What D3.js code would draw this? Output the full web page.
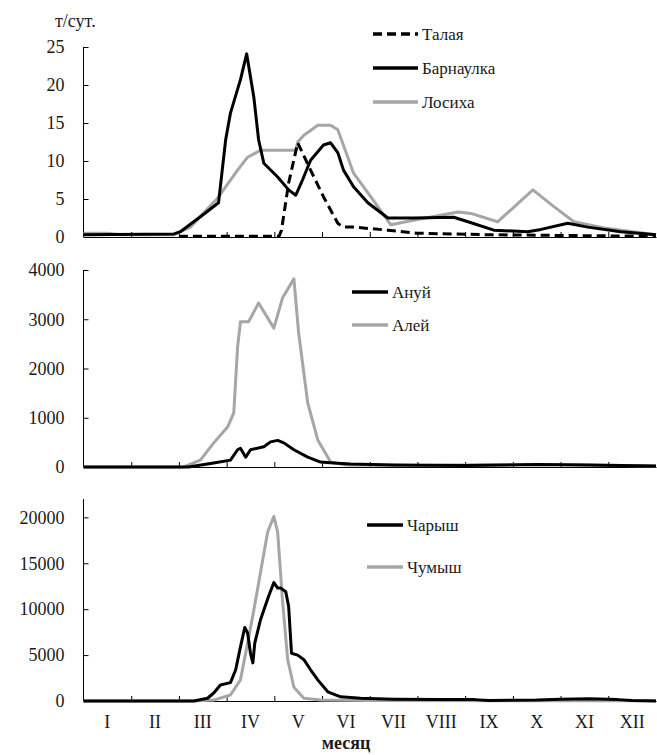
<!DOCTYPE html>
<html>
<head>
<meta charset="utf-8">
<script src="https://cdn.jsdelivr.net/npm/d3@7"></script>
<style>
  body { margin: 0; background: #fff; }
  svg text { fill: #1a1a1a; }
</style>
</head>
<body>
<svg id="chart" width="657" height="755"></svg>
<script>
// month labels (x in month units: 0 = 1 Jan, 12 = 31 Dec)
const months = ['I', 'II', 'III', 'IV', 'V', 'VI', 'VII', 'VIII', 'IX', 'X', 'XI', 'XII'];

// top panel, т/сут.
const talaya = [[2.0,0.1],[4.1,0.1],[4.15,0.9],[4.3,7.1],[4.49,12.4],[4.76,8.8],[5.03,5.3],[5.33,1.8],[5.45,1.3],[5.66,1.3],[6.38,0.9],[7.0,0.5],[8.5,0.3],[10,0.2],[12,0.1]];
const barnaulka = [[0,0.3],[1.9,0.4],[2.03,0.7],[2.52,3.0],[2.83,4.5],[2.98,12.8],[3.08,16.3],[3.29,20.7],[3.42,24.1],[3.57,18.4],[3.67,12.8],[3.78,9.7],[4.07,7.9],[4.3,6.2],[4.45,5.5],[4.59,7.5],[4.76,10.1],[5.03,12.1],[5.18,12.4],[5.33,11.1],[5.45,8.8],[5.66,6.6],[5.96,4.5],[6.38,2.5],[6.92,2.5],[7.76,2.6],[8.06,2.0],[8.6,0.9],[9.31,0.7],[9.59,1.0],[10.15,1.8],[10.57,1.3],[11.26,0.7],[12,0.3]];
const losikha = [[0,0.5],[0.5,0.5],[0.8,0.3],[1.9,0.3],[2.03,0.7],[2.24,1.3],[2.52,3.2],[2.81,5.1],[3.23,8.8],[3.44,10.5],[3.71,11.4],[4.45,11.4],[4.49,12.5],[4.62,13.4],[4.91,14.7],[5.18,14.7],[5.33,14.1],[5.54,10.5],[5.66,8.4],[6.02,5.3],[6.44,1.6],[6.92,2.2],[7.85,3.3],[8.12,3.1],[8.68,2.0],[9.42,6.2],[9.86,4.0],[10.28,2.0],[10.91,1.2],[12,0.3]];

// middle panel
const anuy = [[0,0],[2.2,0],[2.73,80],[3.08,140],[3.23,350],[3.29,380],[3.4,200],[3.5,350],[3.78,410],[3.92,510],[4.07,540],[4.2,490],[4.41,350],[4.7,200],[4.97,100],[5.24,80],[5.6,60],[6.5,40],[8,30],[9.5,50],[10.5,40],[12,20]];
const aley = [[0,0],[2.1,0],[2.45,140],[2.73,490],[3.02,810],[3.15,1100],[3.23,2440],[3.29,2950],[3.46,2950],[3.67,3330],[3.99,2820],[4.17,3430],[4.41,3820],[4.51,2720],[4.7,1300],[4.91,550],[5.18,100],[5.5,40],[7,30],[9,50],[10,50],[12,20]];

// bottom panel
const charysh = [[0,0],[2.31,0],[2.6,300],[2.73,870],[2.87,1750],[3.08,2000],[3.19,3400],[3.29,5900],[3.38,8000],[3.44,7400],[3.5,5200],[3.55,4150],[3.59,6300],[3.71,8850],[3.88,11400],[3.99,12900],[4.07,12300],[4.13,12300],[4.24,11900],[4.3,10300],[4.36,5200],[4.49,5000],[4.62,4500],[4.76,3400],[4.91,2300],[5.12,1000],[5.39,450],[5.81,300],[6.5,200],[7.5,150],[8.2,150],[8.5,50],[9.5,100],[10,200],[10.6,250],[11.2,150],[11.5,50],[12,0]];
const chumysh = [[0,0],[2.3,0],[2.73,100],[3.08,650],[3.29,2300],[3.44,6300],[3.57,9900],[3.71,14000],[3.86,18400],[3.99,20100],[4.07,18400],[4.17,11000],[4.28,4500],[4.41,1500],[4.62,300],[4.97,100],[6,50],[12,30]];

const topTicks = [0, 5, 10, 15, 20, 25];
const midTicks = [0, 1000, 2000, 3000, 4000];
const botTicks = [0, 5000, 10000, 15000, 20000];

const BLACK = '#000';
const GREY = '#a6a6a6';
const FONT = "'Liberation Serif', Tinos, 'DejaVu Serif', 'Noto Serif', FreeSerif, 'Times New Roman', Times, serif";

const svg = d3.select('#chart');
const x = d3.scaleLinear().domain([0, 12]).range([83.5, 656]);

const panels = [
  {
    y: d3.scaleLinear().domain([0, 25]).range([237, 47]),
    ticks: topTicks,
    series: [
      { name: 'Талая', data: talaya, color: BLACK, dash: '9,5' },
      { name: 'Барнаулка', data: barnaulka, color: BLACK },
      { name: 'Лосиха', data: losikha, color: GREY },
    ],
    legend: { x1: 373, x2: 418, ys: [34, 68, 102] },
  },
  {
    y: d3.scaleLinear().domain([0, 4000]).range([467, 270]),
    ticks: midTicks,
    series: [
      { name: 'Ануй', data: anuy, color: BLACK },
      { name: 'Алей', data: aley, color: GREY },
    ],
    legend: { x1: 352, x2: 388, ys: [292, 325] },
  },
  {
    y: d3.scaleLinear().domain([0, 22000]).range([701, 499]),
    ticks: botTicks,
    series: [
      { name: 'Чарыш', data: charysh, color: BLACK },
      { name: 'Чумыш', data: chumysh, color: GREY },
    ],
    legend: { x1: 367, x2: 403, ys: [525, 567] },
  },
];

panels.forEach((p) => {
  const g = svg.append('g');
  const y0 = p.y(0);

  // y axis, ticks pointing inside
  g.append('g')
    .attr('transform', `translate(${x(0)},0)`)
    .call(d3.axisLeft(p.y).tickValues(p.ticks).tickFormat(d3.format('d')).tickSize(-5).tickSizeOuter(0).tickPadding(19))
    .attr('font-family', FONT)
    .attr('font-size', 18)
    .call((a) => a.select('.domain').attr('stroke', '#000').attr('d', `M0,${y0}V${p.y.range()[1]}`))
    .call((a) => a.selectAll('.tick line').attr('stroke', '#000'));

  // x axis: inward ticks on month boundaries
  g.append('g')
    .attr('transform', `translate(0,${y0})`)
    .call(d3.axisBottom(x).tickValues(d3.range(1, 12)).tickSize(-5).tickSizeOuter(0).tickFormat(''))
    .call((a) => a.select('.domain').attr('stroke', '#000'))
    .call((a) => a.selectAll('.tick line').attr('stroke', '#000'));

  const line = d3.line().x((d) => x(d[0])).y((d) => p.y(d[1]));

  // grey first so black lies on top
  const order = p.series.filter((s) => s.color === GREY).concat(p.series.filter((s) => s.color !== GREY));
  order.forEach((s) => {
    g.append('path')
      .attr('d', line(s.data))
      .attr('fill', 'none')
      .attr('stroke', s.color)
      .attr('stroke-width', 3)
      .attr('stroke-linejoin', 'round')
      .attr('stroke-dasharray', s.dash || null);
  });

  // legend
  p.series.forEach((s, i) => {
    const ly = p.legend.ys[i];
    g.append('line')
      .attr('x1', p.legend.x1).attr('x2', p.legend.x2)
      .attr('y1', ly).attr('y2', ly)
      .attr('stroke', s.color)
      .attr('stroke-width', 3.5)
      .attr('stroke-dasharray', s.dash || null);
    g.append('text')
      .attr('x', p.legend.x2 + 4)
      .attr('y', ly)
      .attr('dy', '0.35em')
      .attr('font-family', FONT)
      .attr('font-size', 17)
      .text(s.name);
  });
});

// unit label
svg.append('text')
  .attr('x', 55).attr('y', 27)
  .attr('font-family', FONT)
  .attr('font-size', 18)
  .text('т/сут.');

// month labels under bottom panel
svg.append('g')
  .selectAll('text')
  .data(months)
  .join('text')
  .attr('x', (d, i) => x(i + 0.5))
  .attr('y', 722)
  .attr('dy', '0.35em')
  .attr('text-anchor', 'middle')
  .attr('font-family', FONT)
  .attr('font-size', 18)
  .text((d) => d);

svg.append('text')
  .attr('x', 346).attr('y', 743)
  .attr('dy', '0.35em')
  .attr('text-anchor', 'middle')
  .attr('font-family', FONT)
  .attr('font-size', 18)
  .attr('font-weight', 'bold')
  .text('месяц');
</script>
</body>
</html>
